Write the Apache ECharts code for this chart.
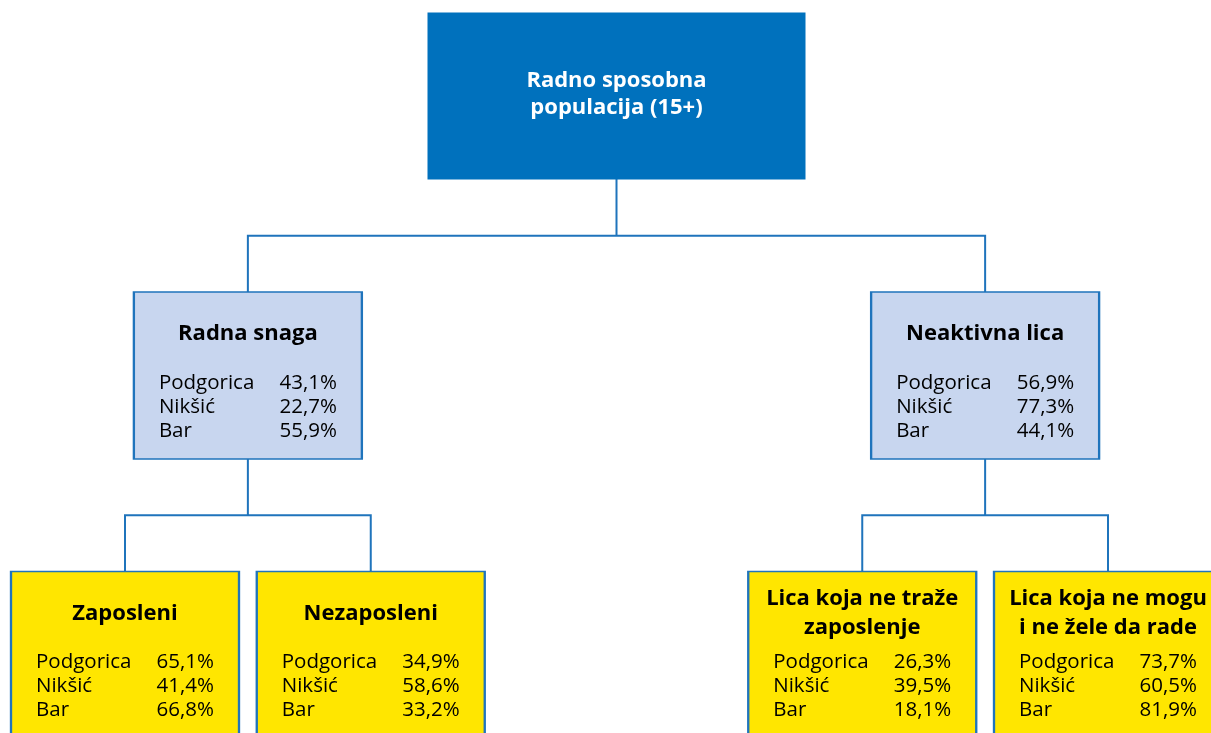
<!DOCTYPE html>
<html>
<head>
<meta charset="utf-8">
<script src="https://cdn.jsdelivr.net/npm/echarts@6/dist/echarts.min.js"></script>
<style>
  html, body { margin: 0; padding: 0; background: #fff; }
  #chart { width: 1211px; height: 733px; }
</style>
</head>
<body>
<div id="chart"></div>
<script>
// gradovi i udjeli (%)
var cities = ['Podgorica', 'Nikšić', 'Bar'];
var rootName = 'Radno sposobna\npopulacija (15+)';
var levelNames = ['Radna snaga', 'Neaktivna lica'];
var radnaSnaga = [43.1, 22.7, 55.9];
var neaktivna = [56.9, 77.3, 44.1];
var leafNames = ['Zaposleni', 'Nezaposleni', 'Lica koja ne traže\nzaposlenje', 'Lica koja ne mogu\ni ne žele da rade'];
var zaposleni = [65.1, 41.4, 66.8];
var nezaposleni = [34.9, 58.6, 33.2];
var neTraze = [26.3, 39.5, 18.1];
var neMogu = [73.7, 60.5, 81.9];

var FONT = 'Open Sans';
var BLUE = '#0071BD';
var LINE = '#1F74BC';
var YELLOW = '#FFE600';
var LIGHT = '#C8D6EF';

var rich = {
  t: { fontFamily: FONT, fontSize: 22, fontWeight: 'bold', lineHeight: 29, color: '#000' },
  t1: { fontFamily: FONT, fontSize: 22, fontWeight: 'bold', lineHeight: 58, color: '#000' },
  sp: { fontSize: 1, lineHeight: 8 },
  c: { fontFamily: FONT, fontSize: 20.5, lineHeight: 24, color: '#000', align: 'left' },
  p: { fontFamily: FONT, fontSize: 20.5, lineHeight: 24, color: '#000', align: 'right' }
};

function pct(v) {
  return v.toFixed(1).replace('.', ',') + '%';
}

function boxText(name, vals) {
  var parts = name.split('\n');
  var title = parts.length > 1
    ? parts.map(function (l) { return '{t|' + l + '}'; }).join('\n')
    : '{t1|' + name + '}';
  var rows = cities.map(function (c, i) {
    return '{c|' + c + '}{p|' + pct(vals[i]) + '}';
  });
  return title + '\n{sp| }\n' + rows.join('\n');
}

function box(name, vals, fill, children) {
  var node = {
    name: name,
    value: vals,
    symbol: 'rect',
    symbolSize: [228, 167],
    itemStyle: { color: fill, borderColor: LINE, borderWidth: 2 },
    label: {
      show: true,
      position: 'inside',
      width: 178,
      align: 'center',
      verticalAlign: 'middle',
      offset: [0, -1.5],
      formatter: boxText(name, vals),
      rich: rich
    }
  };
  if (children) node.children = children;
  return node;
}

var treeData = {
  name: rootName,
  symbol: 'rect',
  symbolSize: [378, 167],
  itemStyle: { color: BLUE, borderColor: BLUE, borderWidth: 0 },
  label: {
    show: true,
    position: 'inside',
    align: 'center',
    verticalAlign: 'middle',
    offset: [0, -1.5],
    formatter: rootName.split('\n').map(function (l) { return '{r|' + l + '}'; }).join('\n'),
    rich: {
      r: { fontFamily: FONT, fontSize: 22, fontWeight: 'bold', lineHeight: 27, color: '#fff' }
    }
  },
  children: [
    box(levelNames[0], radnaSnaga, LIGHT, [
      box(leafNames[0], zaposleni, YELLOW),
      box(leafNames[1], nezaposleni, YELLOW)
    ]),
    box(levelNames[1], neaktivna, LIGHT, [
      box(leafNames[2], neTraze, YELLOW),
      box(leafNames[3], neMogu, YELLOW)
    ])
  ]
};

var myChart = echarts.init(document.getElementById('chart'));
myChart.setOption({
  animation: false,
  series: [{
    type: 'tree',
    data: [treeData],
    orient: 'TB',
    top: 96,
    bottom: 78,
    // tree layout keeps half a gap on each side, so the box is wider than the canvas
    left: -120.75,
    width: 1474.5,
    roam: false,
    expandAndCollapse: false,
    initialTreeDepth: -1,
    edgeShape: 'polyline',
    edgeForkPosition: '50%',
    lineStyle: { color: LINE, width: 2, curveness: 0 },
    emphasis: { disabled: true },
    leaves: { label: { position: 'inside' } }
  }]
});
</script>
</body>
</html>
